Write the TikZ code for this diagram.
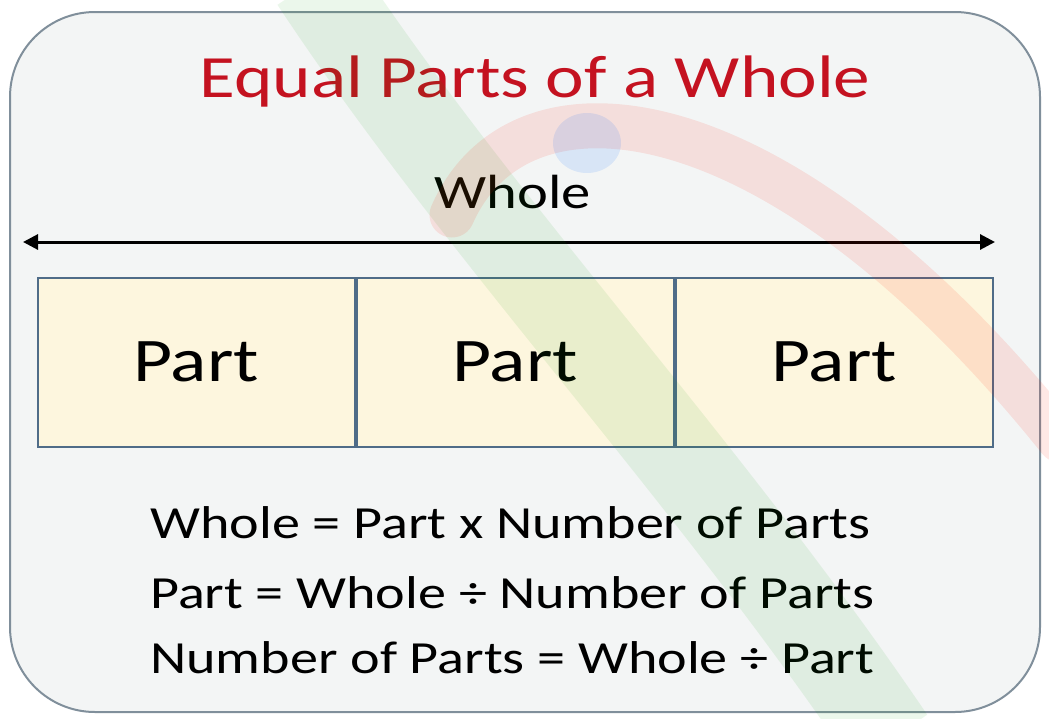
\documentclass[tikz,border=0pt]{standalone}
\usepackage{fontspec}
\setmainfont[FakeStretch=1.22]{Carlito}
\usetikzlibrary{arrows.meta,positioning}

\definecolor{framegray}{RGB}{128,143,155}
\definecolor{panelgray}{RGB}{243,245,245}
\definecolor{titlered}{RGB}{196,18,32}
\definecolor{partfill}{RGB}{253,246,222}
\definecolor{partline}{RGB}{79,108,136}

\begin{document}
\begin{tikzpicture}[
  x=1pt, y=-1pt,
  title/.style={text=titlered, font=\fontsize{60}{70}\selectfont, anchor=base},
  label/.style={font=\fontsize{48}{56}\selectfont, anchor=base},
  part/.style={draw=partline, line width=2pt, fill=partfill,
               minimum width=317pt, minimum height=169pt, inner sep=0pt,
               font=\fontsize{62}{70}\selectfont},
  formula/.style={font=\fontsize{46}{56}\selectfont, anchor=base west, inner sep=0pt},
  arrow/.style={{Triangle[length=15pt,width=15pt]}-{Triangle[length=15pt,width=15pt]},
                line width=3pt},
]
\useasboundingbox (0,0) rectangle (1049,718);
% panel
\draw[framegray, line width=2pt, fill=panelgray, rounded corners=85pt]
  (10,12) rectangle (1040,712);
% texts on top
\node[title] (heading) at (535,97) {Equal Parts of a Whole};
\node[label] (whole) at (513,208) {Whole};
\coordinate (wl) at (23,242);
\coordinate (wr) at (995,242);
\draw[arrow] (wl) -- (wr);
% the three parts
\node[part] (p1) at (196,362) {Part};
\node[part, right=0pt of p1] (p2) {Part};
\node[part, right=0pt of p2] (p3) {Part};
% formulas
\node[formula] (f1) at (150,538) {Whole = Part x Number of Parts};
\node[formula] (f2) at (150,608) {Part = Whole ÷ Number of Parts};
\node[formula] (f3) at (150,673) {Number of Parts = Whole ÷ Part};
% faint watermark
\draw[green!60!black, opacity=.08, line width=90pt]
  (315,-20) .. controls (480,230) and (700,460) .. (890,740);
\draw[red!80!orange, opacity=.10, line width=45pt, line cap=round]
  (452,215) .. controls (520,60) and (780,90) .. (1060,440);
\fill[blue!60!cyan, opacity=.11] (587,143) ellipse [x radius=34pt, y radius=30pt];
\end{tikzpicture}
\end{document}
